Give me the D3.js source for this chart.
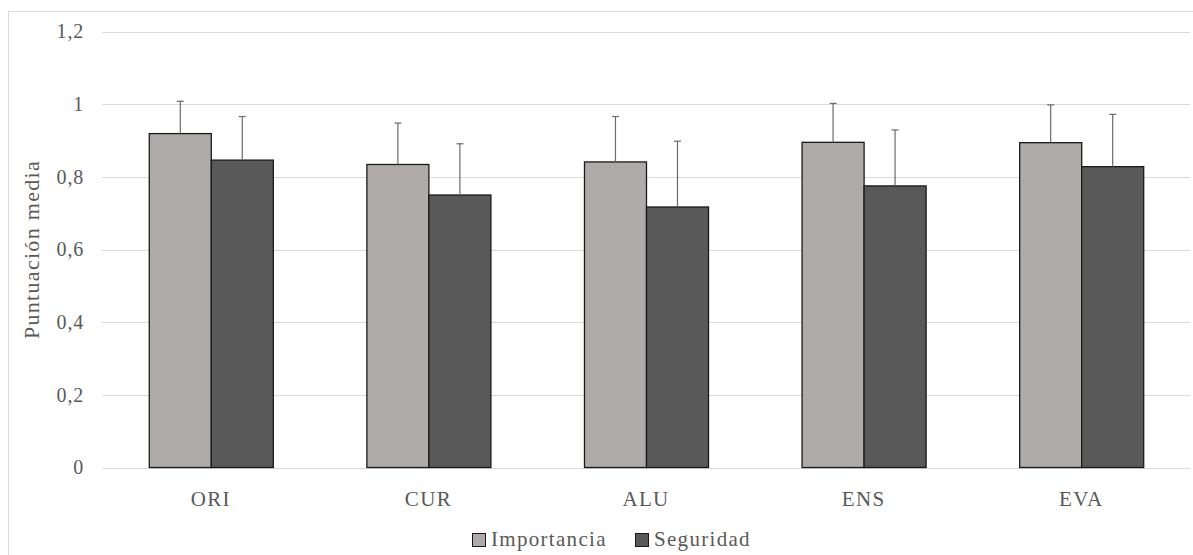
<!DOCTYPE html>
<html>
<head>
<meta charset="utf-8">
<script src="https://cdn.jsdelivr.net/npm/d3@7"></script>
<style>
  body { margin: 0; background: #fff; }
  text { font-family: "Liberation Serif", "DejaVu Serif", serif; fill: #595959; }
</style>
</head>
<body>
<div id="chart-area"></div>
<script>
// data
let categories = ["ORI", "CUR", "ALU", "ENS", "EVA"];
let seriesNames = ["Importancia", "Seguridad"];
let importancia = [0.919, 0.834, 0.841, 0.895, 0.894];
let importanciaErr = [0.089, 0.114, 0.125, 0.107, 0.104];
let seguridad = [0.846, 0.750, 0.717, 0.775, 0.828];
let seguridadErr = [0.120, 0.141, 0.181, 0.154, 0.144];
let yTicks = [0, 0.2, 0.4, 0.6, 0.8, 1, 1.2];

let width = 1193,
	height = 555;

let margin = {left: 102, right: 3, top: 31.5, bottom: 87.5};

let colors = ["#AFABAB", "#595959"];

let rows = categories.map((c, i) => ({
	cat: c,
	vals: [
		{s: 0, v: importancia[i], e: importanciaErr[i]},
		{s: 1, v: seguridad[i], e: seguridadErr[i]}
	]
}));

let svg = d3.select("#chart-area")
	.append("svg")
	.attr("width", width)
	.attr("height", height);

// outer chart border
svg.append("rect")
	.attr("x", 8.5)
	.attr("y", 11.5)
	.attr("width", width)
	.attr("height", height)
	.attr("fill", "none")
	.attr("stroke", "#D9D9D9");

let xScale = d3.scaleBand()
	.domain(categories)
	.range([margin.left, width - margin.right])
	.paddingInner(0.43)
	.paddingOuter(0.215);

let xInner = d3.scaleBand()
	.domain([0, 1])
	.range([0, xScale.bandwidth()]);

let yScale = d3.scaleLinear()
	.domain([0, 1.2])
	.range([height - margin.bottom, margin.top]);

// gridlines
svg.append("g")
	.selectAll("line")
	.data(yTicks)
	.enter()
	.append("line")
	.attr("x1", margin.left)
	.attr("x2", width - margin.right)
	.attr("y1", d => Math.round(yScale(d)) + 0.5)
	.attr("y2", d => Math.round(yScale(d)) + 0.5)
	.attr("stroke", "#D9D9D9")
	.attr("stroke-width", 1);

// y axis labels
let yAxis = d3.axisLeft(yScale)
	.tickValues(yTicks)
	.tickSize(0)
	.tickPadding(0)
	.tickFormat(d => String(d).replace(".", ","));

let y = svg.append("g")
	.attr("transform", "translate(84,0)")
	.call(yAxis);
y.select(".domain").remove();
y.selectAll("text")
	.attr("font-size", 20)
	.attr("letter-spacing", 0.8)
	.attr("fill", "#595959")
	.attr("font-family", "Liberation Serif");

// x axis labels
let xAxis = d3.axisBottom(xScale)
	.tickSize(0)
	.tickPadding(0);
let x = svg.append("g")
	.attr("transform", "translate(0,492)")
	.call(xAxis);
x.select(".domain").remove();
x.selectAll("text")
	.attr("dy", null)
	.attr("y", 14)
	.attr("font-size", 21)
	.attr("letter-spacing", 1.3)
	.attr("fill", "#595959")
	.attr("font-family", "Liberation Serif");

// bars
let groups = svg.append("g")
	.selectAll("g")
	.data(rows)
	.enter()
	.append("g")
	.attr("transform", d => "translate(" + xScale(d.cat) + ",0)");

groups.selectAll("rect")
	.data(d => d.vals)
	.enter()
	.append("rect")
	.attr("x", d => xInner(d.s) + 0.5)
	.attr("y", d => yScale(d.v))
	.attr("width", xInner.bandwidth())
	.attr("height", d => yScale(0) - yScale(d.v))
	.attr("fill", d => colors[d.s])
	.attr("stroke", "#1a1a1a")
	.attr("stroke-width", 1.3);

// error bars (plus only)
let err = groups.selectAll("g.err")
	.data(d => d.vals)
	.enter()
	.append("g")
	.attr("class", "err");

err.append("line")
	.attr("x1", d => Math.round(xInner(d.s) + xInner.bandwidth() / 2) + 0.5)
	.attr("x2", d => Math.round(xInner(d.s) + xInner.bandwidth() / 2) + 0.5)
	.attr("y1", d => yScale(d.v))
	.attr("y2", d => yScale(d.v + d.e))
	.attr("stroke", "#6b6b6b")
	.attr("stroke-width", 1.2);

err.append("line")
	.attr("x1", d => Math.round(xInner(d.s) + xInner.bandwidth() / 2) - 3)
	.attr("x2", d => Math.round(xInner(d.s) + xInner.bandwidth() / 2) + 4)
	.attr("y1", d => yScale(d.v + d.e))
	.attr("y2", d => yScale(d.v + d.e))
	.attr("stroke", "#6b6b6b")
	.attr("stroke-width", 1.2);

// y axis title
svg.append("text")
	.attr("transform", "translate(39," + ((margin.top + height - margin.bottom) / 2) + ") rotate(-90)")
	.attr("text-anchor", "middle")
	.attr("font-size", 22)
	.attr("letter-spacing", 1.3)
	.text("Puntuación media");

// legend
let legendX = [472, 635];
let legend = svg.append("g")
	.selectAll("g")
	.data(seriesNames)
	.enter()
	.append("g")
	.attr("transform", (d, i) => "translate(" + legendX[i] + ",533)");

legend.append("rect")
	.attr("x", 0.5)
	.attr("y", 0.5)
	.attr("width", 13)
	.attr("height", 13)
	.attr("fill", (d, i) => colors[i])
	.attr("stroke", "#1a1a1a");

legend.append("text")
	.attr("x", 19)
	.attr("y", 12.5)
	.attr("font-size", 21)
	.attr("letter-spacing", 1.3)
	.text(d => d);
</script>
</body>
</html>
